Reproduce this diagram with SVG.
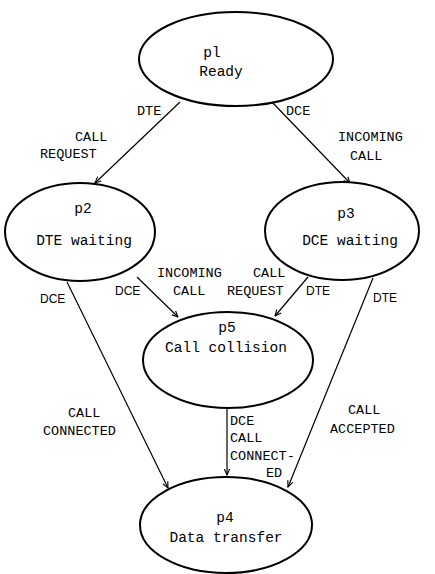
<svg xmlns="http://www.w3.org/2000/svg" width="435" height="574" viewBox="0 0 435 574">
<defs>
<style>
.node{fill:#fff;stroke:#000;stroke-width:2}
.edge{fill:none;stroke:#000;stroke-width:1.2}
.t{font-family:"Liberation Mono","DejaVu Sans Mono",monospace;font-size:14.5px;fill:#000;text-anchor:middle}
.l{font-family:"Liberation Mono","DejaVu Sans Mono",monospace;font-size:13.5px;fill:#000}
.s{font-family:"Liberation Sans",Arial,sans-serif;font-size:12px;fill:#000}
</style>
<marker id="a" viewBox="0 0 10 10" refX="9" refY="5" markerWidth="7" markerHeight="7" orient="auto" markerUnits="userSpaceOnUse">
<path d="M0,1 L9,5 L0,9" fill="none" stroke="#000" stroke-width="1.6"/>
</marker>
</defs>
<rect width="435" height="574" fill="#fff"/>
<g id="connectors">
<line class="edge" x1="180" y1="102" x2="95" y2="183" marker-end="url(#a)"/>
<line class="edge" x1="270" y1="100" x2="350" y2="183" marker-end="url(#a)"/>
<line class="edge" x1="137" y1="277" x2="178" y2="317" marker-end="url(#a)"/>
<line class="edge" x1="308" y1="277" x2="275" y2="316" marker-end="url(#a)"/>
<line class="edge" x1="67" y1="282" x2="168" y2="488" marker-end="url(#a)"/>
<line class="edge" x1="373" y1="278" x2="288" y2="487" marker-end="url(#a)"/>
<line class="edge" x1="227" y1="407" x2="227" y2="475" marker-end="url(#a)"/>
</g>
<g id="p1">
<ellipse class="node" cx="236" cy="59" rx="97" ry="47"/>
<text class="t" x="212" y="57">pl</text>
<text class="t" x="221" y="76">Ready</text>
</g>
<g id="p2">
<ellipse class="node" cx="80" cy="232" rx="75" ry="49"/>
<text class="t" x="83" y="213">p2</text>
<text class="t" x="84" y="245">DTE waiting</text>
</g>
<g id="p3">
<ellipse class="node" cx="342" cy="231" rx="77" ry="49"/>
<text class="t" x="346" y="218">p3</text>
<text class="t" x="350" y="245">DCE waiting</text>
</g>
<g id="p5">
<ellipse class="node" cx="228" cy="360" rx="85" ry="48"/>
<text class="t" x="227" y="332">p5</text>
<text class="t" x="226" y="352">Call collision</text>
</g>
<g id="p4">
<ellipse class="node" cx="226" cy="525" rx="86" ry="48"/>
<text class="t" x="225" y="522">p4</text>
<text class="t" x="226" y="542">Data transfer</text>
</g>
<g id="labels">
<text class="l" x="137" y="115">DTE</text>
<text class="l" x="286" y="115">DCE</text>
<text class="l" x="75" y="141">CALL</text>
<text class="l" x="40" y="158">REQUEST</text>
<text class="l" x="338" y="141">INCOMING</text>
<text class="l" x="350" y="160">CALL</text>
<text class="l" x="157" y="277">INCOMING</text>
<text class="l" x="173" y="295">CALL</text>
<text class="l" x="253" y="277">CALL</text>
<text class="l" x="227" y="295">REQUEST</text>
<text class="s" x="115" y="295">DCE</text>
<text class="s" x="306" y="295">DTE</text>
<text class="s" x="40" y="303">DCE</text>
<text class="s" x="373" y="302">DTE</text>
<text class="l" x="68" y="417">CALL</text>
<text class="l" x="43" y="435">CONNECTED</text>
<text class="l" x="348" y="414">CALL</text>
<text class="l" x="330" y="433">ACCEPTED</text>
<text class="l" x="230" y="425">DCE</text>
<text class="l" x="230" y="442">CALL</text>
<text class="l" x="230" y="460">CONNECT-</text>
<text class="l" x="266" y="477">ED</text>
</g>
</svg>
